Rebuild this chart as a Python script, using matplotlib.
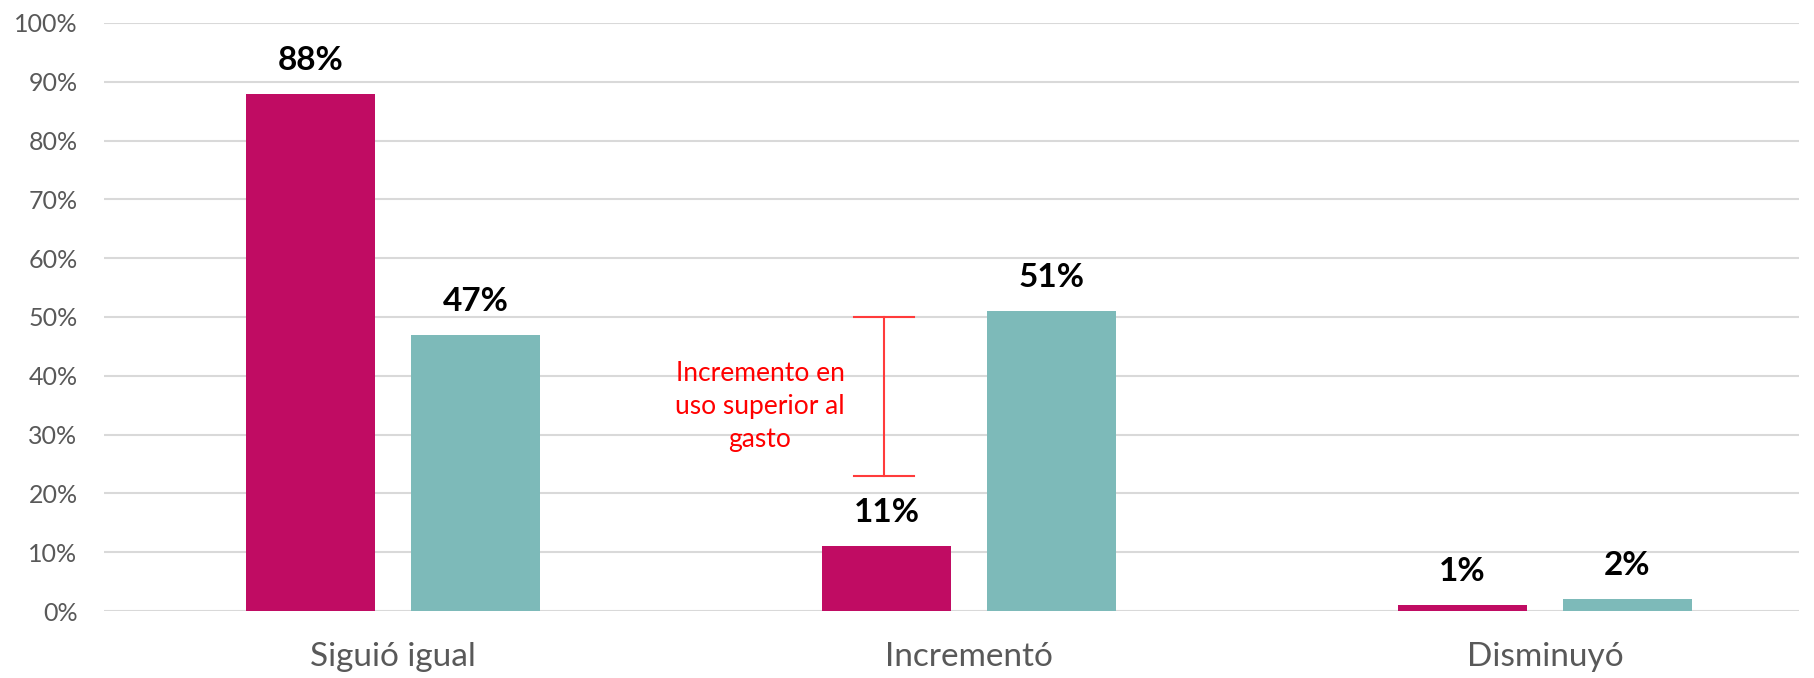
import numpy as np
from matplotlib import pyplot as plt

categorias = ["Siguió igual", "Incrementó", "Disminuyó"]
serie_1 = [88, 11, 1]
serie_2 = [47, 51, 2]
etiquetas_y = ["0%", "10%", "20%", "30%", "40%", "50%", "60%", "70%", "80%", "90%", "100%"]
nota = "Incremento en\nuso superior al\ngasto"
nota_rango = (23, 50)

rosa = "#C00C63"
verde = "#7DBAB9"
gris = "#595959"

plt.rcParams['font.family'] = ['Lato', 'DejaVu Sans']

fig = plt.figure(figsize=(18.14, 6.78), dpi=100)
ax = fig.add_axes([0.0573, 0.0988, 0.9344, 0.8673])

x = np.arange(len(categorias))
w = 0.225
off = 0.143
b1 = ax.bar(x - off, serie_1, w, color=rosa, zorder=3)
b2 = ax.bar(x + off, serie_2, w, color=verde, zorder=3)

for bars, vals in ((b1, serie_1), (b2, serie_2)):
    for r, v in zip(bars, vals):
        ax.annotate(f"{v}%", (r.get_x() + r.get_width() / 2, v),
                    xytext=(0, 24), textcoords="offset points",
                    ha="center", va="center", fontsize=24, fontweight="bold",
                    color="black")

# corchete rojo con la nota
xb = 0.852
ax.plot([xb, xb], nota_rango, color="#FF3B3B", lw=1.5, zorder=4)
for yv in nota_rango:
    ax.plot([xb - 0.052, xb + 0.052], [yv, yv], color="#FF3B3B", lw=1.5, zorder=4)
ax.text(0.637, 34.7, nota, color="red", fontsize=19, ha="center", va="center",
        linespacing=1.4)

ax.set_xlim(-0.502, 2.441)
ax.set_ylim(0, 100)
ax.set_yticks(np.arange(0, 101, 10))
ax.set_yticklabels(etiquetas_y)
ax.set_xticks(x)
ax.set_xticklabels(categorias)
ax.tick_params(axis="y", length=0, pad=19, labelsize=18, labelcolor=gris)
ax.tick_params(axis="x", length=0, pad=22, labelsize=24, labelcolor=gris)
ax.grid(axis="y", color="#D9D9D9", lw=1.5, zorder=0)
for s in ax.spines.values():
    s.set_visible(False)

fig.savefig("out.png", dpi=100)
